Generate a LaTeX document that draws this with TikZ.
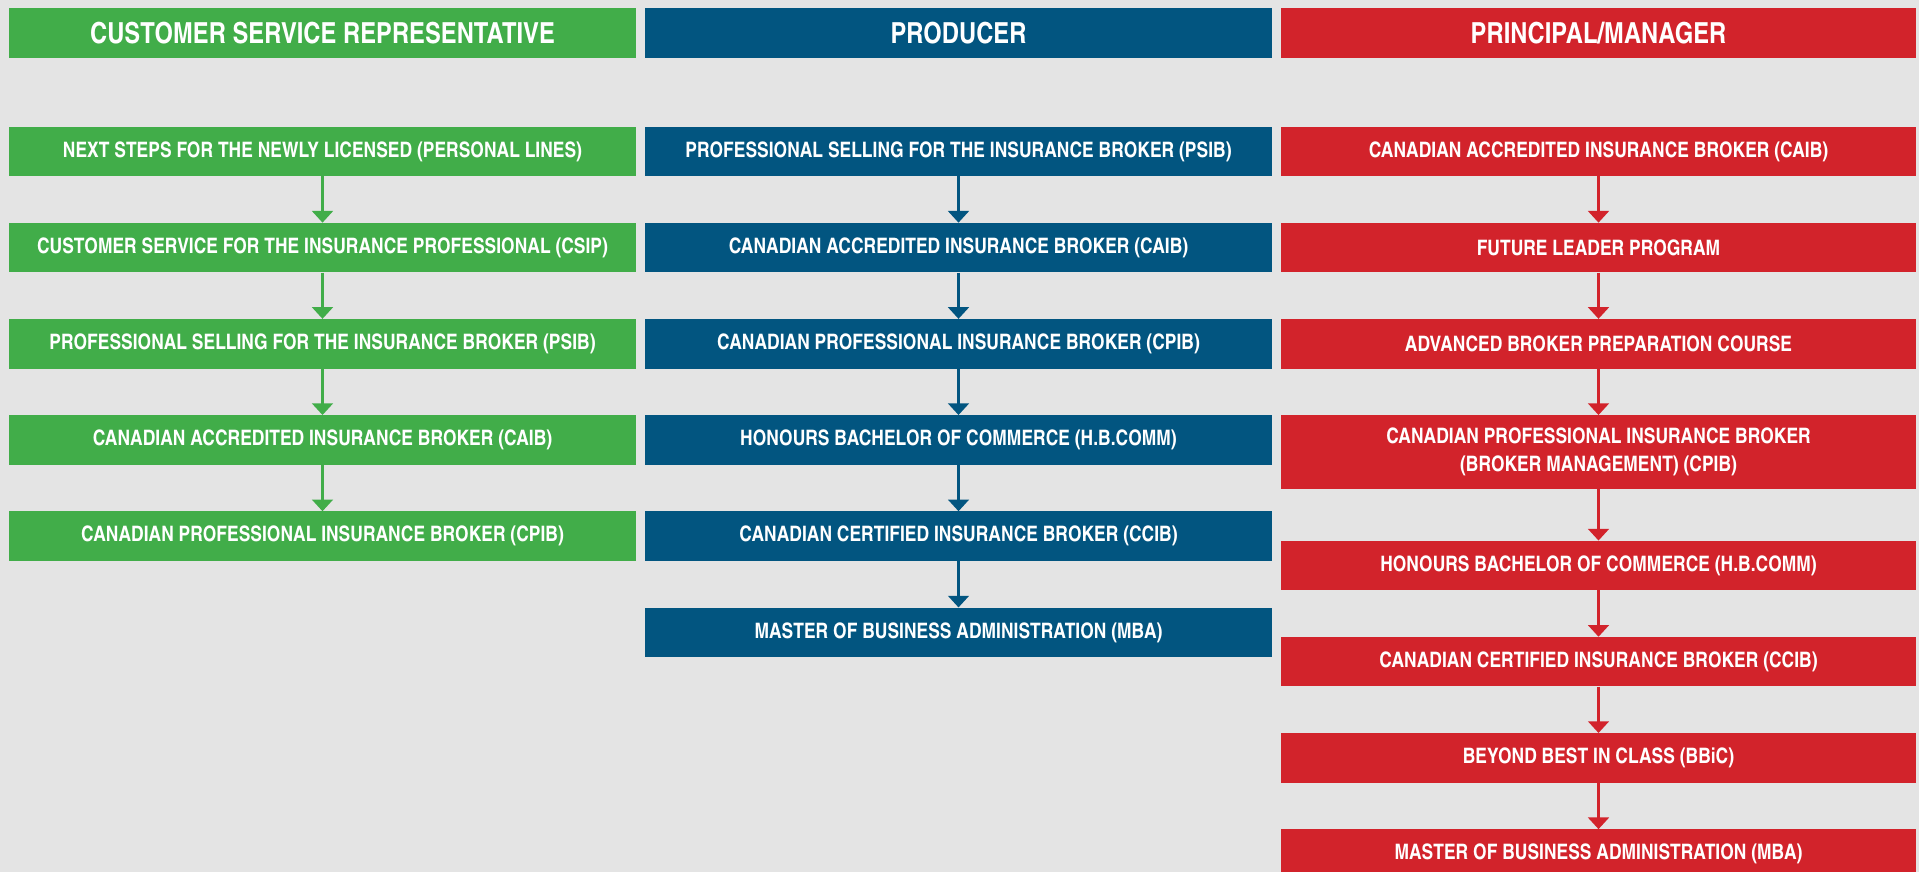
\documentclass[tikz,border=0pt]{standalone}
\usepackage{fontspec}
\setmainfont{texgyreheroscn}[Extension=.otf, UprightFont=*-regular, BoldFont=*-bold]
\usepackage{xcolor}
\usepackage{tikz}
\usetikzlibrary{arrows.meta, positioning}
\definecolor{pagebg}{RGB}{228,228,228}
\definecolor{csrgreen}{RGB}{65,173,73}
\definecolor{prodblue}{RGB}{2,85,128}
\definecolor{mgrred}{RGB}{210,35,43}
\tikzset{
    header/.style={rectangle, minimum height=49.5pt, inner sep=0pt, text centered, text=white, font=\bfseries\fontsize{29}{34}\selectfont},
    course/.style={rectangle, minimum height=49.5pt, inner sep=0pt, align=center, text=white, font=\bfseries\fontsize{21.3}{28.3}\selectfont},
    csr/.style={fill=csrgreen, minimum width=627pt},
    prod/.style={fill=prodblue, minimum width=627pt},
    mgr/.style={fill=mgrred, minimum width=635pt},
    arrow/.style={line width=2.7pt, -{Triangle[width=20.7pt, length=11.7pt]}}
}

\begin{document}
\begin{tikzpicture}[x=1pt, y=-1pt, node distance=46.3pt]
    \useasboundingbox (0,0) rectangle (1919,872);
    \fill [pagebg] (0,0) rectangle (1919,872);

    % Column headers
    \node (csrHead) [header, csr] at (322.5,33) {CUSTOMER SERVICE REPRESENTATIVE};
    \node (prodHead) [header, prod] at (958.5,33) {PRODUCER};
    \node (mgrHead) [header, mgr] at (1598.5,33) {PRINCIPAL/MANAGER};

    % Customer service representative
    \node (csr1) [course, csr, below=68.5pt of csrHead] {NEXT STEPS FOR THE NEWLY LICENSED (PERSONAL LINES)};
    \node (csr2) [course, csr, below=of csr1] {CUSTOMER SERVICE FOR THE INSURANCE PROFESSIONAL (CSIP)};
    \node (csr3) [course, csr, below=of csr2] {PROFESSIONAL SELLING FOR THE INSURANCE BROKER (PSIB)};
    \node (csr4) [course, csr, below=of csr3] {CANADIAN ACCREDITED INSURANCE BROKER (CAIB)};
    \node (csr5) [course, csr, below=of csr4] {CANADIAN PROFESSIONAL INSURANCE BROKER (CPIB)};

    % Producer
    \node (prod1) [course, prod, below=68.5pt of prodHead] {PROFESSIONAL SELLING FOR THE INSURANCE BROKER (PSIB)};
    \node (prod2) [course, prod, below=of prod1] {CANADIAN ACCREDITED INSURANCE BROKER (CAIB)};
    \node (prod3) [course, prod, below=of prod2] {CANADIAN PROFESSIONAL INSURANCE BROKER (CPIB)};
    \node (prod4) [course, prod, below=of prod3] {HONOURS BACHELOR OF COMMERCE (H.B.COMM)};
    \node (prod5) [course, prod, below=of prod4] {CANADIAN CERTIFIED INSURANCE BROKER (CCIB)};
    \node (prod6) [course, prod, below=of prod5] {MASTER OF BUSINESS ADMINISTRATION (MBA)};

    % Principal / manager
    \node (mgr1) [course, mgr, below=68.5pt of mgrHead] {CANADIAN ACCREDITED INSURANCE BROKER (CAIB)};
    \node (mgr2) [course, mgr, below=of mgr1] {FUTURE LEADER PROGRAM};
    \node (mgr3) [course, mgr, below=of mgr2] {ADVANCED BROKER PREPARATION COURSE};
    \node (mgr4) [course, mgr, minimum height=73.7pt, below=of mgr3] {CANADIAN PROFESSIONAL INSURANCE BROKER\\(BROKER MANAGEMENT) (CPIB)};
    \node (mgr5) [course, mgr, below=51.4pt of mgr4] {HONOURS BACHELOR OF COMMERCE (H.B.COMM)};
    \node (mgr6) [course, mgr, below=of mgr5] {CANADIAN CERTIFIED INSURANCE BROKER (CCIB)};
    \node (mgr7) [course, mgr, below=of mgr6] {BEYOND BEST IN CLASS (BBiC)};
    \node (mgr8) [course, mgr, below=of mgr7] {MASTER OF BUSINESS ADMINISTRATION (MBA)};

    % Arrows
    \draw [arrow, csrgreen] (csr1) -- (csr2);
    \draw [arrow, csrgreen] (csr2) -- (csr3);
    \draw [arrow, csrgreen] (csr3) -- (csr4);
    \draw [arrow, csrgreen] (csr4) -- (csr5);

    \draw [arrow, prodblue] (prod1) -- (prod2);
    \draw [arrow, prodblue] (prod2) -- (prod3);
    \draw [arrow, prodblue] (prod3) -- (prod4);
    \draw [arrow, prodblue] (prod4) -- (prod5);
    \draw [arrow, prodblue] (prod5) -- (prod6);

    \draw [arrow, mgrred] (mgr1) -- (mgr2);
    \draw [arrow, mgrred] (mgr2) -- (mgr3);
    \draw [arrow, mgrred] (mgr3) -- (mgr4);
    \draw [arrow, mgrred] (mgr4) -- (mgr5);
    \draw [arrow, mgrred] (mgr5) -- (mgr6);
    \draw [arrow, mgrred] (mgr6) -- (mgr7);
    \draw [arrow, mgrred] (mgr7) -- (mgr8);
\end{tikzpicture}
\end{document}
